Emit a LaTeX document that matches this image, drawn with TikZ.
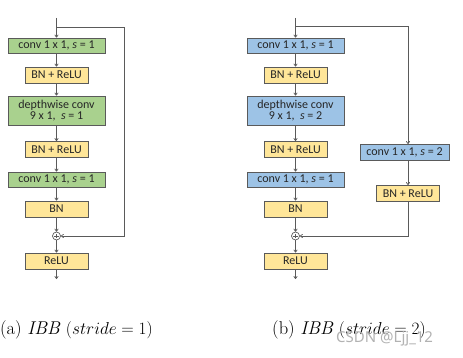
\documentclass[tikz,border=0pt]{standalone}
\usepackage{fontspec}
\newfontfamily\boxfont{Carlito}
\newfontfamily\wmfont{Noto Sans}
\usetikzlibrary{arrows.meta}
\definecolor{gfill}{RGB}{169,209,142}
\definecolor{yfill}{RGB}{255,230,153}
\definecolor{bfill}{RGB}{157,195,230}
\definecolor{edge}{RGB}{90,90,90}
\tikzset{
  blk/.style={draw=edge, line width=0.9pt, inner sep=0pt, align=center,
    font=\boxfont\fontsize{12}{13}\selectfont, text=black!85},
  wide/.style={blk, minimum width=97pt, minimum height=15pt},
  narrow/.style={blk, fill=yfill, minimum width=63pt, minimum height=16pt},
  tall/.style={blk, minimum width=97pt, minimum height=29pt},
  sumnode/.style={circle, draw=edge, line width=0.7pt, minimum size=8pt, inner sep=0pt},
  conn/.style={draw=edge, line width=0.7pt, -{To[length=3pt,width=4pt]}},
}
\begin{document}
\begin{tikzpicture}[x=1pt,y=-1pt]
\useasboundingbox (0,0) rectangle (463,358);
% ---------- (a) ----------
\coordinate (ain) at (56.5,18);
\coordinate (abr) at (56.5,27);
\coordinate (ar1) at (124.5,27);
\node[wide, fill=gfill] (a1) at (56.5,45.5) {conv 1 x 1, \textit{s} = 1};
\node[narrow] (a2) at (56.5,75) {BN + ReLU};
\node[tall, fill=gfill] (a3) at (56.5,110.5) {depthwise conv\\[-2pt]9 x 1,\ \ \textit{s} = 1};
\node[narrow] (a4) at (56.5,149.5) {BN + ReLU};
\node[wide, fill=gfill] (a5) at (56.5,179.5) {conv 1 x 1, \textit{s} = 1};
\node[narrow] (a6) at (56.5,209) {BN};
\node[sumnode] (ap) at (56.5,236) {};
\draw[edge, line width=0.6pt] ([yshift=-2.3pt]ap.center) -- ([yshift=2.3pt]ap.center)
  ([xshift=-2.3pt]ap.center) -- ([xshift=2.3pt]ap.center);
\node[narrow] (a7) at (56.5,261) {ReLU};
\coordinate (aout) at (56.5,279);
\coordinate (ar2) at (124.5,236);
\draw[conn] (ain) -- (a1);
\draw[conn] (a1) -- (a2);
\draw[conn] (a2) -- (a3);
\draw[conn] (a3) -- (a4);
\draw[conn] (a4) -- (a5);
\draw[conn] (a5) -- (a6);
\draw[conn] (a6) -- (ap);
\draw[conn] (ap) -- (a7);
\draw[conn] (a7) -- (aout);
\draw[conn] (abr) -- (ar1) -- (ar2) -- (ap);
% ---------- (b) ----------
\coordinate (bin) at (295.5,18);
\coordinate (bbr) at (295.5,26);
\coordinate (br1) at (408,26);
\node[wide, fill=bfill] (b1) at (295.5,45.5) {conv 1 x 1, \textit{s} = 1};
\node[narrow] (b2) at (295.5,75) {BN + ReLU};
\node[tall, fill=bfill] (b3) at (295.5,110.5) {depthwise conv\\[-2pt]9 x 1,\ \ \textit{s} = 2};
\node[narrow] (b4) at (295.5,149.5) {BN + ReLU};
\node[wide, fill=bfill] (b5) at (295.5,179.5) {conv 1 x 1, \textit{s} = 1};
\node[narrow] (b6) at (295.5,209) {BN};
\node[sumnode] (bp) at (295.5,236) {};
\draw[edge, line width=0.6pt] ([yshift=-2.3pt]bp.center) -- ([yshift=2.3pt]bp.center)
  ([xshift=-2.3pt]bp.center) -- ([xshift=2.3pt]bp.center);
\node[narrow] (b7) at (295.5,261) {ReLU};
\coordinate (bout) at (295.5,279);
\node[blk, fill=bfill, minimum width=89pt, minimum height=16pt] (c1) at (404.5,152.5) {conv 1 x 1, \textit{s} = 2};
\node[narrow] (c2) at (408,193.5) {BN + ReLU};
\coordinate (br2) at (408,236);
\draw[conn] (bin) -- (b1);
\draw[conn] (b1) -- (b2);
\draw[conn] (b2) -- (b3);
\draw[conn] (b3) -- (b4);
\draw[conn] (b4) -- (b5);
\draw[conn] (b5) -- (b6);
\draw[conn] (b6) -- (bp);
\draw[conn] (bp) -- (b7);
\draw[conn] (b7) -- (bout);
\draw[conn] (bbr) -- (br1) -- (br1 |- c1.north);
\draw[conn] (c1.south -| c2) -- (c2);
\draw[conn] (c2) -- (br2) -- (bp);
% ---------- captions ----------
\node[anchor=west, inner sep=0pt, font=\fontsize{18.5}{21}\selectfont] (capa) at (0,330)
  {(a) \textit{IBB} $(stride = 1)$};
\node[anchor=west, inner sep=0pt, font=\fontsize{18.5}{21}\selectfont] (capb) at (272,330)
  {(b) \textit{IBB} $(stride = 2)$};
\node[anchor=west, inner sep=0pt, text=black!30, font=\wmfont\fontsize{15}{17}\selectfont] (wm) at (336,339)
  {CSDN @Ljj\_12};
\end{tikzpicture}
\end{document}
